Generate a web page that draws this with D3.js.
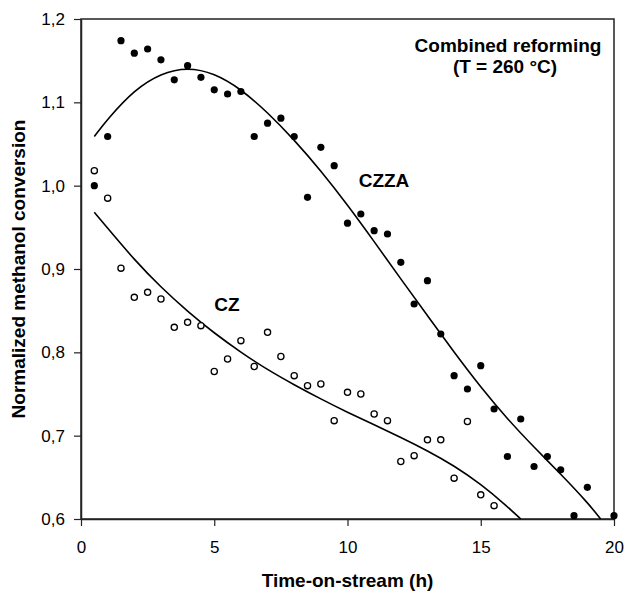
<!DOCTYPE html>
<html>
<head>
<meta charset="utf-8">
<script src="https://cdn.jsdelivr.net/npm/d3@7"></script>
<style>
  body { margin: 0; background: #fff; }
  svg text { font-family: "Liberation Sans", Arial, sans-serif; fill: #000; }
</style>
</head>
<body>
<svg id="chart" width="626" height="592"></svg>
<script>
const czzaTime = [0.5, 1, 1.5, 2, 2.5, 3, 3.5, 4, 4.5, 5, 5.5, 6, 6.5, 7, 7.5, 8, 8.5, 9, 9.5, 10,
                  10.5, 11, 11.5, 12, 12.5, 13, 13.5, 14, 14.5, 15, 15.5, 16, 16.5, 17, 17.5, 18, 18.5, 19, 20];
const czzaValue = [1.000, 1.059, 1.174, 1.159, 1.164, 1.151, 1.127, 1.144, 1.130, 1.115, 1.110, 1.113, 1.059, 1.075, 1.081, 1.059, 0.986, 1.046, 1.024, 0.955,
                   0.966, 0.946, 0.942, 0.908, 0.858, 0.886, 0.822, 0.772, 0.756, 0.784, 0.732, 0.675, 0.720, 0.663, 0.675, 0.659, 0.604, 0.638, 0.604];

const czTime = [0.5, 1, 1.5, 2, 2.5, 3, 3.5, 4, 4.5, 5, 5.5, 6, 6.5, 7, 7.5, 8, 8.5, 9, 9.5, 10,
                10.5, 11, 11.5, 12, 12.5, 13, 13.5, 14, 14.5, 15, 15.5];
const czValue = [1.018, 0.985, 0.901, 0.866, 0.872, 0.864, 0.830, 0.836, 0.832, 0.777, 0.792, 0.814, 0.783, 0.824, 0.795, 0.772, 0.760, 0.762, 0.718, 0.752,
                 0.750, 0.726, 0.718, 0.669, 0.676, 0.695, 0.695, 0.649, 0.717, 0.629, 0.616];

// 추세선 (그림의 곡선을 따라 읽은 점)
const czzaFitTime = [0.5, 1, 2, 3, 4, 5, 6, 7, 8, 9, 10, 11, 12, 13, 14, 15, 16, 17, 18, 19, 19.5];
const czzaFitValue = [1.059, 1.080, 1.115, 1.135, 1.142, 1.135, 1.116, 1.088, 1.055, 1.018, 0.977, 0.933, 0.888, 0.844, 0.800, 0.758, 0.720, 0.686, 0.654, 0.620, 0.600];

const czFitTime = [0.5, 1, 2, 3, 4, 5, 6, 7, 8, 9, 10, 11, 12, 13, 14, 15, 16, 16.5];
const czFitValue = [0.968, 0.949, 0.911, 0.878, 0.849, 0.823, 0.800, 0.779, 0.761, 0.744, 0.728, 0.713, 0.698, 0.682, 0.664, 0.642, 0.615, 0.600];

const xTicks = [0, 5, 10, 15, 20];
const yTicks = [0.6, 0.7, 0.8, 0.9, 1.0, 1.1, 1.2];

const svg = d3.select('#chart');
const margin = { left: 81, right: 12, top: 19, bottom: 73 };
const W = 626, H = 592;

const x = d3.scaleLinear().domain([0, 20]).range([margin.left, W - margin.right]);
const y = d3.scaleLinear().domain([0.6, 1.2]).range([H - margin.bottom, margin.top]);

const comma = v => d3.format('.1f')(v).replace('.', ',');

// 테두리 (위, 오른쪽)
svg.append('rect')
    .attr('x', x(0)).attr('y', y(1.2))
    .attr('width', x(20) - x(0)).attr('height', y(0.6) - y(1.2))
    .attr('fill', 'none').attr('stroke', '#222').attr('stroke-width', 1.5);

// 축
const xAxis = svg.append('g')
    .attr('transform', `translate(0,${y(0.6)})`)
    .call(d3.axisBottom(x).tickValues(xTicks).tickSize(7).tickSizeOuter(0).tickPadding(15));
const yAxis = svg.append('g')
    .attr('transform', `translate(${x(0)},0)`)
    .call(d3.axisLeft(y).tickValues(yTicks).tickFormat(comma).tickSize(7).tickSizeOuter(0).tickPadding(9));

[xAxis, yAxis].forEach(a => {
    a.selectAll('path').attr('stroke', '#222').attr('stroke-width', 1.5);
    a.selectAll('line').attr('stroke', '#222').attr('stroke-width', 1.2);
    a.selectAll('text').style('font-size', '17px').attr('fill', '#000');
});

// 축 제목
svg.append('text')
    .attr('x', x(10)).attr('y', 587)
    .attr('text-anchor', 'middle')
    .style('font-size', '19px').style('font-weight', 'bold')
    .text('Time-on-stream (h)');
svg.append('text')
    .attr('transform', `translate(25,${y(0.9)}) rotate(-90)`)
    .attr('text-anchor', 'middle')
    .style('font-size', '19px').style('font-weight', 'bold')
    .text('Normalized methanol conversion');

// 추세선
const line = d3.line().x(d => x(d[0])).y(d => y(d[1])).curve(d3.curveBasis);
svg.append('path')
    .datum(d3.zip(czzaFitTime, czzaFitValue))
    .attr('d', line).attr('fill', 'none').attr('stroke', '#000').attr('stroke-width', 1.6);
svg.append('path')
    .datum(d3.zip(czFitTime, czFitValue))
    .attr('d', line).attr('fill', 'none').attr('stroke', '#000').attr('stroke-width', 1.6);

// 데이터 점
svg.append('g').selectAll('circle')
    .data(d3.zip(czzaTime, czzaValue))
    .join('circle')
    .attr('cx', d => x(d[0])).attr('cy', d => y(d[1]))
    .attr('r', 3.6).attr('fill', '#000');
svg.append('g').selectAll('circle')
    .data(d3.zip(czTime, czValue))
    .join('circle')
    .attr('cx', d => x(d[0])).attr('cy', d => y(d[1]))
    .attr('r', 3.1).attr('fill', '#fff').attr('stroke', '#000').attr('stroke-width', 1.3);

// 주석
const notes = [
    { t: 'Combined reforming', x: 508, y: 52 },
    { t: '(T = 260 °C)', x: 505, y: 73 },
    { t: 'CZZA', x: 384, y: 187 },
    { t: 'CZ', x: 227, y: 311 }
];
svg.append('g').selectAll('text')
    .data(notes)
    .join('text')
    .attr('x', d => d.x).attr('y', d => d.y)
    .attr('text-anchor', 'middle')
    .style('font-size', '19px').style('font-weight', 'bold')
    .text(d => d.t);
</script>
</body>
</html>
